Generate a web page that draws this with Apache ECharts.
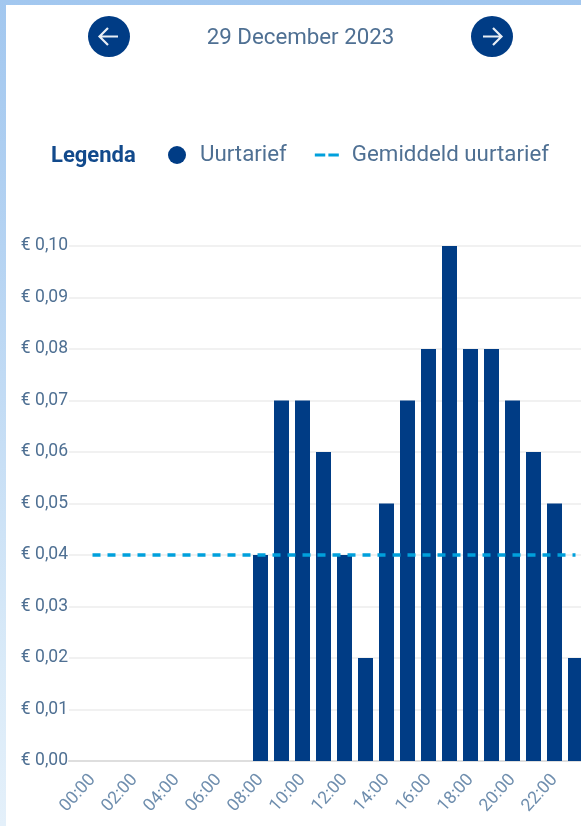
<!DOCTYPE html>
<html>
<head>
<meta charset="utf-8">
<title>Uurtarief</title>
<script src="https://cdn.jsdelivr.net/npm/echarts@6/dist/echarts.min.js"></script>
<style>
  html, body { margin: 0; padding: 0; width: 581px; height: 826px; overflow: hidden; }
  body { background: linear-gradient(180deg, #a2c7ef 0%, #b5d3f2 30%, #d9eaf8 80%, #e4f0fa 100%); position: relative; font-family: Roboto, sans-serif; }
  #panel { position: absolute; left: 6px; top: 5px; width: 575px; height: 821px; background: #fff; }
  #chart { position: absolute; left: 0; top: 0; width: 581px; height: 826px; filter: blur(0.5px); }
  .nav { position: absolute; top: 16px; width: 42px; height: 41px; border-radius: 50%; background: #003c85; filter: blur(0.5px); }
  .nav svg { display: block; width: 42px; height: 41px; }
  #date { position: absolute; left: 150px; width: 301px; top: 23px; text-align: center; font-size: 22.3px; line-height: 26px; color: #4f7093; filter: blur(0.5px); }
</style>
</head>
<body>
<div id="panel"></div>
<div id="chart"></div>
<div class="nav" style="left:88px"><svg viewBox="0 0 42 41"><path d="M30 20.500H12M20 12l-8.500 8.500L20 29" fill="none" stroke="#e8eef5" stroke-width="2.200"/></svg></div>
<div id="date">29 December 2023</div>
<div class="nav" style="left:471px"><svg viewBox="0 0 42 41"><path d="M12 20.500H30M22 12l8.500 8.500L22 29" fill="none" stroke="#e8eef5" stroke-width="2.200"/></svg></div>

<script>
const hours = ['00:00','01:00','02:00','03:00','04:00','05:00','06:00','07:00','08:00','09:00','10:00','11:00',
  '12:00','13:00','14:00','15:00','16:00','17:00','18:00','19:00','20:00','21:00','22:00','23:00']
const hourlyRate = [0, 0, 0, 0, 0, 0, 0, 0, 0.04, 0.07, 0.07, 0.06, 0.04, 0.02, 0.05, 0.07, 0.08, 0.10, 0.08, 0.08, 0.07, 0.06, 0.05, 0.02]
const averageRate = hours.map(() => 0.04)

const navy = '#003c85'
const cyan = '#00a0dc'
const textColor = '#4f7093'

const chart = echarts.init(document.getElementById('chart'), null, { renderer: 'canvas' })

chart.setOption({
  backgroundColor: 'transparent',
  animation: false,
  textStyle: { fontFamily: 'Roboto' },
  title: {
    text: 'Legenda',
    left: 46,
    top: 140,
    textStyle: { fontSize: 22, fontWeight: 'bold', color: '#124a8c', fontFamily: 'Roboto' }
  },
  legend: {
    left: 168,
    top: 144,
    padding: 0,
    itemGap: 28,
    itemWidth: 24,
    itemHeight: 18,
    textStyle: { fontSize: 22.3, color: textColor, fontFamily: 'Roboto' },
    data: [
      { name: 'Uurtarief', icon: 'circle', textStyle: { padding: [0, 0, 0, 6] } },
      // two short dashes, same as the average line
      { name: 'Gemiddeld uurtarief', icon: 'path://M0 0H10V3H0ZM13 0H23V3H13Z', textStyle: { padding: [0, 0, 0, 8] } }
    ]
  },
  // gridlines run further left than the first bar, so they get their own grid
  // the last bar is cut off by the window, outerBoundsMode keeps the grid from being squeezed back in
  grid: [
    { left: 69, width: 517, top: 246, height: 515, outerBoundsMode: 'none' },
    { left: 82, width: 504, top: 246, height: 515, outerBoundsMode: 'none' }
  ],
  xAxis: [
    {
      gridIndex: 0,
      type: 'category',
      data: hours,
      axisLine: { show: true, lineStyle: { width: 2, color: '#dedede' } },
      axisTick: { show: false },
      axisLabel: { show: false }
    },
    {
      gridIndex: 1,
      type: 'category',
      data: hours,
      axisLine: { show: false },
      axisTick: { show: false },
      axisLabel: { interval: 1, rotate: 48, fontSize: 17.5, margin: 16, color: '#6f8eae', fontFamily: 'Roboto' }
    }
  ],
  yAxis: [
    {
      gridIndex: 0,
      type: 'value',
      min: 0,
      max: 0.1,
      interval: 0.01,
      axisLine: { show: false },
      axisTick: { show: false },
      axisLabel: {
        margin: 1,
        fontSize: 17.5,
        padding: [2, 0, 0, 0],
        color: textColor,
        fontFamily: 'Roboto',
        formatter: v => '€ ' + v.toFixed(2).replace('.', ',')
      },
      splitLine: {
        show: true,
        lineStyle: { width: 2, color: '#f1f1f1' }
      }
    },
    { gridIndex: 1, type: 'value', min: 0, max: 0.1, interval: 0.01, show: false }
  ],
  series: [
    {
      name: 'Uurtarief',
      type: 'bar',
      xAxisIndex: 1,
      yAxisIndex: 1,
      data: hourlyRate,
      barWidth: 15,
      itemStyle: { color: navy }
    },
    {
      name: 'Gemiddeld uurtarief',
      type: 'line',
      xAxisIndex: 1,
      yAxisIndex: 1,
      data: averageRate,
      symbol: 'none',
      z: 5,
      itemStyle: { color: cyan },
      lineStyle: { color: cyan, width: 3.500, type: [8, 7] }
    }
  ]
})

window.addEventListener('resize', () => chart.resize())
</script>
</body>
</html>
